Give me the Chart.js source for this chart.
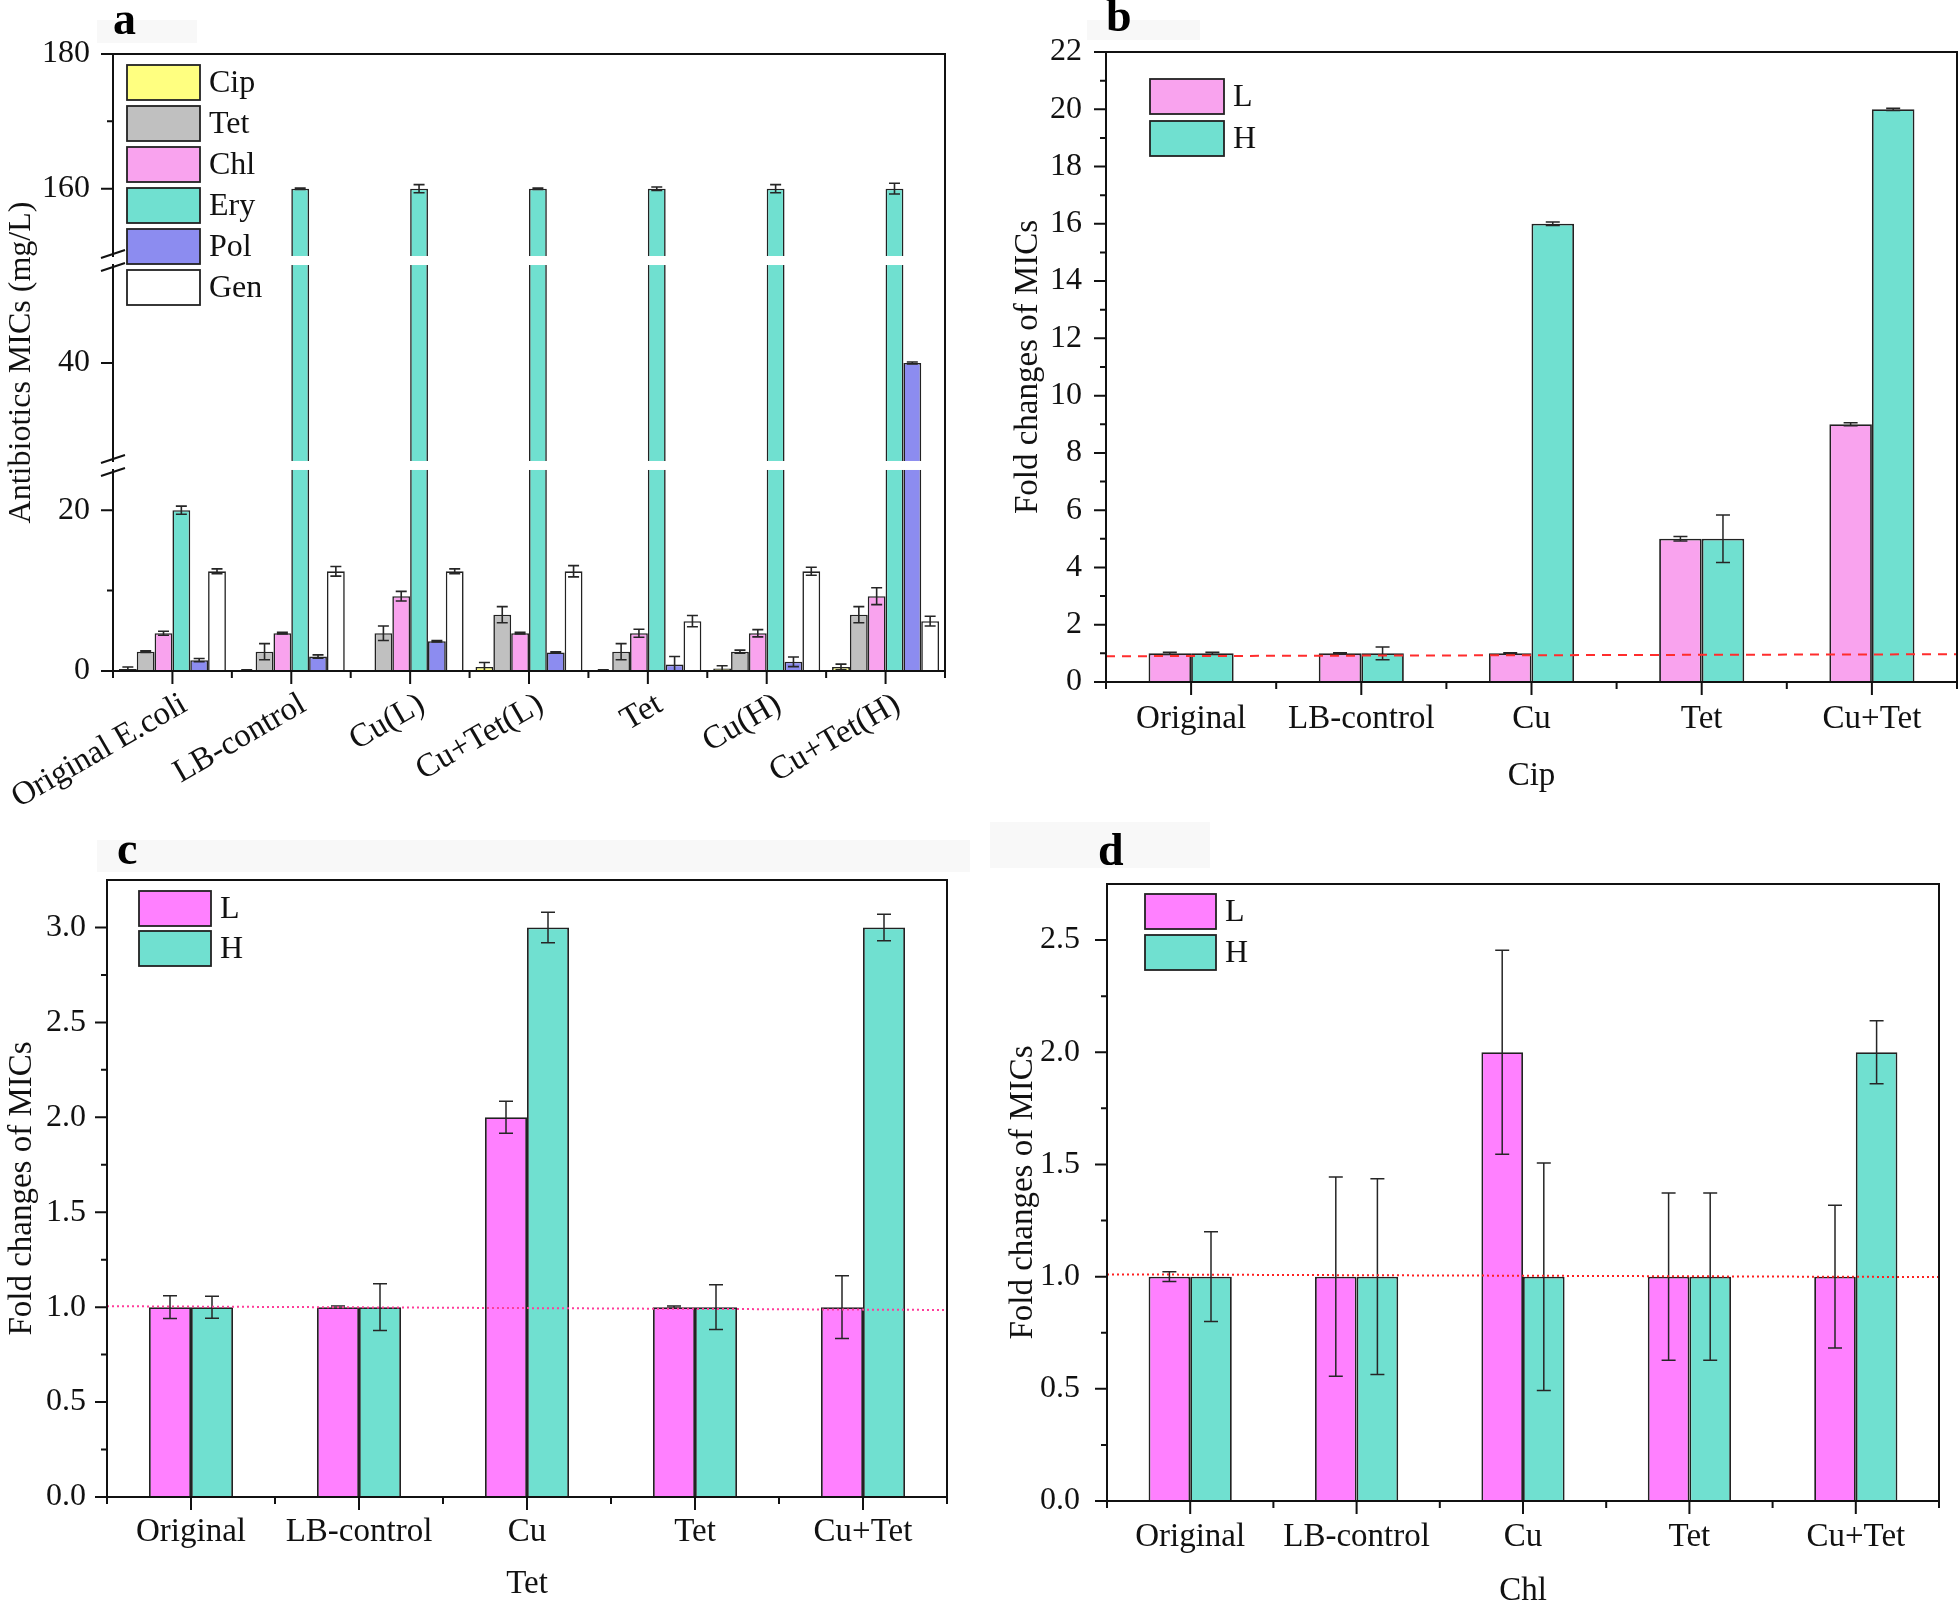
<!DOCTYPE html>
<html>
<head>
<meta charset="utf-8">
<script src="https://cdn.jsdelivr.net/npm/chart.js@4.4.0/dist/chart.umd.min.js"></script>
<style>
html, body { margin: 0; padding: 0; background: #fff; overflow: hidden; }
#page { position: relative; width: 1960px; height: 1603px; background: #fff; }
.panel { position: absolute; }
.tag { position: absolute; font-family: 'Liberation Serif', 'Times New Roman', serif; font-weight: bold; font-size: 46px; line-height: 1; color: #000; }
.shade { position: absolute; background: #f8f8f8; }
</style>
</head>
<body>
<div id="page">
  <div class="shade" style="left:97px;top:20px;width:100px;height:23px"></div>
  <div class="shade" style="left:1087px;top:20px;width:113px;height:20px"></div>
  <div class="shade" style="left:97px;top:840px;width:873px;height:32px"></div>
  <div class="shade" style="left:990px;top:822px;width:220px;height:46px"></div>

  <div class="panel" style="left:0;top:0;width:980px;height:820px"><canvas id="chartA"></canvas></div>
  <div class="panel" style="left:980px;top:0;width:980px;height:820px"><canvas id="chartB"></canvas></div>
  <div class="panel" style="left:0;top:820px;width:980px;height:783px"><canvas id="chartC"></canvas></div>
  <div class="panel" style="left:980px;top:820px;width:980px;height:783px"><canvas id="chartD"></canvas></div>

  <div class="tag" style="left:113px;top:-4px">a</div>
  <div class="tag" style="left:1106px;top:-7px">b</div>
  <div class="tag" style="left:117px;top:826px">c</div>
  <div class="tag" style="left:1098px;top:827px">d</div>
</div>

<script>
// ---- panel a : antibiotic MICs (mg/L) ----
const strains = ['Original E.coli', 'LB-control', 'Cu(L)', 'Cu+Tet(L)', 'Tet', 'Cu(H)', 'Cu+Tet(H)'];
const micCip = [0.25, 0.1, 0.05, 0.5, 0.1, 0.3, 0.5];
const micTet = [2.4, 2.4, 4.7, 7.0, 2.4, 2.4, 7.0];
const micChl = [4.7, 4.7, 9.3, 4.7, 4.7, 4.7, 9.3];
const micEry = [20, 160, 160, 160, 160, 160, 160];
const micPol = [1.35, 1.8, 3.7, 2.3, 0.8, 1.15, 40];
const micGen = [12.4, 12.4, 12.4, 12.4, 6.2, 12.4, 6.2];
const errCip = [0.25, 0.05, 0, 0.55, 0.05, 0.35, 0.35];
const errTet = [0.1, 1.0, 0.9, 1.0, 1.0, 0.2, 1.0];
const errChl = [0.25, 0.1, 0.6, 0.1, 0.5, 0.45, 1.05];
const errEry = [0.5, 0.1, 0.6, 0.1, 0.25, 0.6, 0.8];
const errPol = [0.2, 0.2, 0.1, 0.1, 1.0, 0.6, 0.1];
const errGen = [0.3, 0.6, 0.3, 0.7, 0.7, 0.5, 0.6];
const aTicks = [0, 20, 40, 160, 180];
const aMinorTicks = [10, 170];

// ---- panels b, c, d : fold changes ----
const groups = ['Original', 'LB-control', 'Cu', 'Tet', 'Cu+Tet'];
const cipL = [1, 1, 1, 5, 9];
const cipH = [1, 1, 16, 5, 20];
const cipLErr = [0.04, 0.02, 0.02, 0.08, 0.05];
const cipHErr = [0.04, 0.22, 0.06, 0.83, 0.04];
const cipRef = [0.9, 0.97];
const cipTicks = [0, 2, 4, 6, 8, 10, 12, 14, 16, 18, 20, 22];

const tetL = [1, 1, 2, 1, 1];
const tetH = [1, 1, 3, 1, 3];
const tetLErr = [0.06, 0.006, 0.084, 0.006, 0.165];
const tetHErr = [0.058, 0.123, 0.08, 0.118, 0.07];
const tetRef = [1.005, 0.985];
const tetTicks = [0, 0.5, 1.0, 1.5, 2.0, 2.5, 3.0];

const chlL = [1, 1, 2, 1, 1];
const chlH = [1, 1, 1, 1, 2];
const chlLErr = [0.022, 0.444, 0.455, 0.373, 0.318];
const chlHErr = [0.2, 0.436, 0.507, 0.373, 0.14];
const chlRef = [1.01, 0.998];
const chlTicks = [0, 0.5, 1.0, 1.5, 2.0, 2.5];

Chart.defaults.font.family = "'Liberation Serif', 'Times New Roman', serif";
Chart.defaults.color = '#111';
Chart.defaults.animation = false;

// broken y axis for panel a: value ranges and where they sit along the axis (0 = bottom, 1 = top)
const aSegments = [
  { from: 0, to: 25, start: 0, end: 0.3258 },
  { from: 30, to: 50, start: 0.3404, end: 0.6580 },
  { from: 150, to: 180, start: 0.6726, end: 1 }
];

function brokenFrac(v) {
  for (let i = 0; i < aSegments.length; i++) {
    const s = aSegments[i];
    if (v <= s.to) {
      if (v >= s.from || i === 0) return s.start + (v - s.from) / (s.to - s.from) * (s.end - s.start);
      const p = aSegments[i - 1];
      return p.end + (v - p.to) / (s.from - p.to) * (s.start - p.end);
    }
  }
  const l = aSegments[aSegments.length - 1];
  return l.start + (v - l.from) / (l.to - l.from) * (l.end - l.start);
}

function brokenValue(f) {
  for (let i = 0; i < aSegments.length; i++) {
    const s = aSegments[i];
    if (f <= s.end) {
      if (f >= s.start || i === 0) return s.from + (f - s.start) / (s.end - s.start) * (s.to - s.from);
      const p = aSegments[i - 1];
      return p.to + (f - p.end) / (s.start - p.end) * (s.from - p.to);
    }
  }
  const l = aSegments[aSegments.length - 1];
  return l.from + (f - l.start) / (l.end - l.start) * (l.to - l.from);
}

class BrokenScale extends Chart.LinearScale {
  getPixelForValue(value) {
    return this.bottom - brokenFrac(value) * (this.bottom - this.top);
  }
  getValueForPixel(pixel) {
    return brokenValue((this.bottom - pixel) / (this.bottom - this.top));
  }
}
BrokenScale.id = 'broken';
BrokenScale.defaults = Chart.LinearScale.defaults;
Chart.register(BrokenScale);

function extras(cfg) {
  return {
    id: 'panelExtras',
    afterDatasetsDraw(chart) {
      const ctx = chart.ctx, area = chart.chartArea, y = chart.scales.y;
      ctx.save();
      // error bars
      ctx.strokeStyle = '#262626';
      ctx.lineWidth = cfg.errWidth;
      chart.data.datasets.forEach((ds, di) => {
        const meta = chart.getDatasetMeta(di);
        const errs = cfg.errors[di];
        meta.data.forEach((bar, i) => {
          const e = errs[i];
          if (!e) return;
          const v = ds.data[i];
          const yt = y.getPixelForValue(v + e), yb = y.getPixelForValue(Math.max(v - e, 0));
          const bx = bar.x, c = cfg.cap / 2;
          ctx.beginPath();
          ctx.moveTo(bx, yt); ctx.lineTo(bx, yb);
          ctx.moveTo(bx - c, yt); ctx.lineTo(bx + c, yt);
          ctx.moveTo(bx - c, yb); ctx.lineTo(bx + c, yb);
          ctx.stroke();
        });
      });
      // reference line
      if (cfg.ref) {
        ctx.strokeStyle = cfg.refColor;
        ctx.lineWidth = 2;
        ctx.setLineDash(cfg.refDash);
        ctx.beginPath();
        ctx.moveTo(area.left, y.getPixelForValue(cfg.ref[0]));
        ctx.lineTo(area.right, y.getPixelForValue(cfg.ref[1]));
        ctx.stroke();
        ctx.setLineDash([]);
      }
      // axis break bands
      if (cfg.broken) {
        ctx.fillStyle = '#fff';
        for (let i = 1; i < aSegments.length; i++) {
          const top = y.getPixelForValue(aSegments[i].from);
          const bot = y.getPixelForValue(aSegments[i - 1].to);
          ctx.fillRect(area.left + 1, top, area.right - area.left - 2, bot - top);
        }
      }
      ctx.restore();
    },
    afterDraw(chart) {
      const ctx = chart.ctx, area = chart.chartArea, x = chart.scales.x, y = chart.scales.y;
      ctx.save();
      ctx.strokeStyle = '#111';
      ctx.lineWidth = 2;
      ctx.lineCap = 'square';
      // frame
      ctx.beginPath();
      ctx.moveTo(area.left, area.top); ctx.lineTo(area.right, area.top);
      ctx.lineTo(area.right, area.bottom); ctx.lineTo(area.left, area.bottom);
      if (cfg.broken) {
        let from = area.bottom;
        for (let i = 1; i < aSegments.length; i++) {
          const bot = y.getPixelForValue(aSegments[i - 1].to);
          const top = y.getPixelForValue(aSegments[i].from);
          ctx.moveTo(area.left, from); ctx.lineTo(area.left, bot);
          from = top;
        }
        ctx.moveTo(area.left, from); ctx.lineTo(area.left, area.top);
      } else {
        ctx.lineTo(area.left, area.top);
      }
      ctx.stroke();
      ctx.lineCap = 'butt';
      // break marks
      if (cfg.broken) {
        ctx.beginPath();
        for (let i = 1; i < aSegments.length; i++) {
          const bot = y.getPixelForValue(aSegments[i - 1].to);
          const top = y.getPixelForValue(aSegments[i].from);
          [top - 2, bot + 2].forEach(yy => {
            ctx.moveTo(area.left - 12, yy + 4);
            ctx.lineTo(area.left + 12, yy - 4);
          });
        }
        ctx.stroke();
      }
      // y ticks
      ctx.beginPath();
      y.ticks.forEach(t => {
        const py = y.getPixelForValue(t.value);
        ctx.moveTo(area.left - 12, py); ctx.lineTo(area.left, py);
      });
      cfg.yMinor.forEach(v => {
        const py = y.getPixelForValue(v);
        ctx.moveTo(area.left - 6, py); ctx.lineTo(area.left, py);
      });
      // x ticks
      const n = x.ticks.length, cw = (area.right - area.left) / n;
      for (let i = 0; i < n; i++) {
        const px = x.getPixelForValue(i);
        ctx.moveTo(px, area.bottom); ctx.lineTo(px, area.bottom + 13);
      }
      for (let i = 0; i <= n; i++) {
        const px = area.left + i * cw;
        ctx.moveTo(px, area.bottom); ctx.lineTo(px, area.bottom + 7);
      }
      ctx.stroke();
      // legend
      const lg = cfg.legend;
      ctx.font = '32px ' + Chart.defaults.font.family;
      ctx.textBaseline = 'middle';
      ctx.textAlign = 'left';
      chart.data.datasets.forEach((ds, i) => {
        const bx = area.left + lg.dx, by = area.top + lg.dy + i * lg.step;
        ctx.fillStyle = ds.backgroundColor;
        ctx.fillRect(bx, by, lg.w, lg.h);
        ctx.lineWidth = 1.8;
        ctx.strokeStyle = '#222';
        ctx.strokeRect(bx, by, lg.w, lg.h);
        ctx.fillStyle = '#111';
        ctx.fillText(ds.label, bx + lg.w + 9, by + lg.h / 2 + 1);
      });
      ctx.restore();
    }
  };
}

function barSet(label, data, color) {
  return {
    label: label, data: data, backgroundColor: color,
    borderColor: '#222', borderWidth: 1.6,
    categoryPercentage: 0.9, barPercentage: 1.0
  };
}

// panel a
new Chart(document.getElementById('chartA'), {
  type: 'bar',
  data: {
    labels: strains,
    datasets: [
      barSet('Cip', micCip, '#FFFF80'),
      barSet('Tet', micTet, '#C0C0C0'),
      barSet('Chl', micChl, '#F9A3EE'),
      barSet('Ery', micEry, '#70E0D0'),
      barSet('Pol', micPol, '#8C8CF0'),
      barSet('Gen', micGen, '#FFFFFF')
    ]
  },
  options: {
    responsive: true, maintainAspectRatio: false, events: [],
    layout: { padding: { top: 54, right: 35, bottom: 0, left: 0 } },
    plugins: { legend: { display: false }, tooltip: { enabled: false } },
    scales: {
      x: {
        grid: { display: false, drawTicks: false }, border: { display: false },
        ticks: { font: { size: 33 }, color: '#111', minRotation: 30, maxRotation: 30, autoSkip: false, padding: 14, labelOffset: 12 },
        afterFit: s => { s.height = 149; s.paddingLeft = 0; s.paddingRight = 0; }
      },
      y: {
        type: 'broken', min: 0, max: 180, position: 'left',
        grid: { display: false, drawTicks: false }, border: { display: false },
        ticks: { font: { size: 32 }, color: '#111', padding: 23 },
        afterBuildTicks: s => { s.ticks = aTicks.map(v => ({ value: v })); },
        title: { display: true, text: 'Antibiotics MICs (mg/L)', font: { size: 32 }, color: '#111', padding: { top: 2, bottom: 0 } },
        afterFit: s => { s.width = 113; s.paddingTop = 0; s.paddingBottom = 0; }
      }
    }
  },
  plugins: [extras({
    errors: [errCip, errTet, errChl, errEry, errPol, errGen],
    errWidth: 1.6, cap: 11, broken: true, yMinor: aMinorTicks,
    legend: { dx: 14, dy: 11, w: 73, h: 35, step: 41 }
  })]
});

function foldChart(id, o) {
  const minor = [];
  for (let i = 1; i < o.ticks.length; i++) minor.push((o.ticks[i - 1] + o.ticks[i]) / 2);
  return new Chart(document.getElementById(id), {
    type: 'bar',
    data: {
      labels: groups,
      datasets: [
        { label: 'L', data: o.L, backgroundColor: o.lColor, borderColor: '#222', borderWidth: 1.8, categoryPercentage: 0.5, barPercentage: 1.0 },
        { label: 'H', data: o.H, backgroundColor: '#70E0D0', borderColor: '#222', borderWidth: 1.8, categoryPercentage: 0.5, barPercentage: 1.0 }
      ]
    },
    options: {
      responsive: true, maintainAspectRatio: false, events: [],
      layout: { padding: { top: o.padTop, right: o.padRight, bottom: 0, left: 0 } },
      plugins: { legend: { display: false }, tooltip: { enabled: false } },
      scales: {
        x: {
          grid: { display: false, drawTicks: false }, border: { display: false },
          ticks: { font: { size: 33 }, color: '#111', maxRotation: 0, autoSkip: false, padding: o.xPad },
          title: { display: true, text: o.xTitle, font: { size: 33 }, color: '#111', padding: { top: 0, bottom: o.xTitlePad } },
          afterFit: s => { s.height = o.xH; s.paddingLeft = 0; s.paddingRight = 0; }
        },
        y: {
          min: 0, max: o.max,
          grid: { display: false, drawTicks: false }, border: { display: false },
          ticks: { font: { size: 32 }, color: '#111', padding: o.yPad, callback: v => v.toFixed(o.dec) },
          afterBuildTicks: s => { s.ticks = o.ticks.map(v => ({ value: v })); },
          title: { display: true, text: 'Fold changes of MICs', font: { size: 33 }, color: '#111', padding: { top: o.yTitlePad, bottom: 0 } },
          afterFit: s => { s.width = o.yW; s.paddingTop = 0; s.paddingBottom = 0; }
        }
      }
    },
    plugins: [extras({
      errors: [o.LErr, o.HErr], errWidth: 1.5, cap: 14, broken: false, yMinor: minor,
      ref: o.ref, refColor: o.refColor, refDash: o.refDash,
      legend: o.legend
    })]
  });
}

foldChart('chartB', {
  L: cipL, H: cipH, LErr: cipLErr, HErr: cipHErr, ref: cipRef, ticks: cipTicks, max: 22, dec: 0,
  lColor: '#F9A3EE', refColor: '#ff2d2d', refDash: [9, 7], xTitle: 'Cip',
  padTop: 52, padRight: 3, xH: 138, yW: 126, xPad: 18, xTitlePad: 24, yPad: 24, yTitlePad: 29,
  legend: { dx: 44, dy: 27, w: 74, h: 35, step: 42 }
});

foldChart('chartC', {
  L: tetL, H: tetH, LErr: tetLErr, HErr: tetHErr, ref: tetRef, ticks: tetTicks, max: 3.25, dec: 1,
  lColor: '#FF80FF', refColor: '#ff3d9a', refDash: [2, 3], xTitle: 'Tet',
  padTop: 60, padRight: 33, xH: 106, yW: 107, xPad: 16, xTitlePad: -1, yPad: 21, yTitlePad: 3,
  legend: { dx: 32, dy: 11, w: 72, h: 35, step: 40 }
});

foldChart('chartD', {
  L: chlL, H: chlH, LErr: chlLErr, HErr: chlHErr, ref: chlRef, ticks: chlTicks, max: 2.75, dec: 1,
  lColor: '#FF80FF', refColor: '#ff2020', refDash: [2, 3], xTitle: 'Chl',
  padTop: 64, padRight: 21, xH: 102, yW: 127, xPad: 17, xTitlePad: -8, yPad: 27, yTitlePad: 24,
  legend: { dx: 38, dy: 10, w: 71, h: 35, step: 41 }
});
</script>
</body>
</html>
